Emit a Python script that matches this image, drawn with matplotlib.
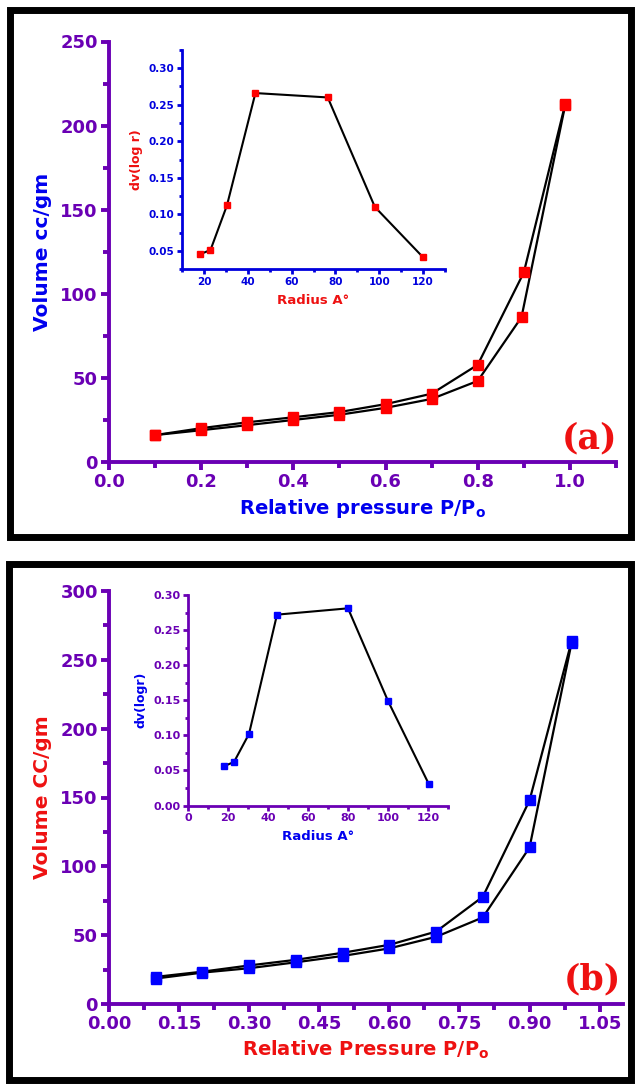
"""
Nitrogen adsorption-desorption isotherms with pore size distribution insets.
"""

import matplotlib
matplotlib.use("Agg")
import matplotlib.pyplot as plt
from matplotlib.patches import Rectangle
from matplotlib.ticker import MultipleLocator

# (a) isotherm: adsorption branch then desorption branch
p_ads_a = [0.10, 0.20, 0.30, 0.40, 0.50, 0.60, 0.70, 0.80, 0.895, 0.99]
v_ads_a = [16.0, 18.9, 21.9, 25.0, 28.1, 32.2, 37.5, 48.2, 86.1, 212.5]
p_des_a = [0.99, 0.90, 0.80, 0.70, 0.60, 0.50, 0.40, 0.30, 0.20, 0.10]
v_des_a = [213.0, 112.7, 57.8, 40.6, 34.4, 29.7, 26.6, 23.6, 20.1, 16.0]

# (a) pore size distribution
r_a = [18, 23, 30.5, 43.5, 76.5, 98, 120]
dv_a = [0.045, 0.051, 0.112, 0.266, 0.260, 0.110, 0.041]

# (b) isotherm
p_ads_b = [0.10, 0.20, 0.30, 0.40, 0.50, 0.60, 0.70, 0.80, 0.90, 0.99]
v_ads_b = [18.5, 22.8, 26.0, 30.3, 34.9, 40.4, 48.8, 62.9, 113.7, 262.5]
p_des_b = [0.99, 0.90, 0.80, 0.70, 0.60, 0.50, 0.40, 0.30, 0.20, 0.10]
v_des_b = [263.5, 147.9, 77.9, 52.6, 43.0, 37.2, 32.1, 28.0, 23.5, 19.7]

# (b) pore size distribution
r_b = [18, 23, 30.5, 44.5, 80, 100, 120.5]
dv_b = [0.056, 0.062, 0.102, 0.272, 0.281, 0.149, 0.030]

PURPLE = '#6a00b4'
BLUE = '#0000ee'
RED = '#ee1111'

W, H = 635, 1085


def px_rect(left, top, right, bottom):
    # pixel box (from top-left) -> figure fraction [l, b, w, h]
    return [left / W, 1 - bottom / H, (right - left) / W, (bottom - top) / H]


def style_axes(ax, color, lw, size, major_len, minor_len):
    for side in ['top', 'right']:
        ax.spines[side].set_visible(False)
    for side in ['left', 'bottom']:
        ax.spines[side].set_color(color)
        ax.spines[side].set_linewidth(lw)
    ax.tick_params(which='major', direction='out', length=major_len, width=lw,
                   color=color, labelcolor=color, labelsize=size, pad=2)
    ax.tick_params(which='minor', direction='out', length=minor_len, width=lw,
                   color=color)
    for lab in ax.get_xticklabels() + ax.get_yticklabels():
        lab.set_fontweight('bold')


def isotherm_panel(fig, rect, xa, ya, xd, yd, marker_color, xlim, ylim, xmaj, xmin,
                   ymaj, ymin, xfmt, xlabel, ylabel, label_color, tag, tag_xy):
    ax = fig.add_axes(rect)
    ax.plot(xa, ya, '-', color='black', lw=1.6, zorder=2)
    ax.plot(xd, yd, '-', color='black', lw=1.6, zorder=2)
    ax.plot(xa, ya, 's', color=marker_color, ms=7, mec=marker_color, zorder=3)
    ax.plot(xd, yd, 's', color=marker_color, ms=7, mec=marker_color, zorder=3)
    ax.xaxis.set_major_locator(MultipleLocator(xmaj))
    ax.xaxis.set_minor_locator(MultipleLocator(xmin))
    ax.yaxis.set_major_locator(MultipleLocator(ymaj))
    ax.yaxis.set_minor_locator(MultipleLocator(ymin))
    ax.xaxis.set_major_formatter(plt.FormatStrFormatter(xfmt))
    ax.set_xlim(*xlim)
    ax.set_ylim(*ylim)
    style_axes(ax, PURPLE, 2.8, 13, 6, 4)
    ax.set_xlabel(xlabel, fontsize=14, fontweight='bold', color=label_color, labelpad=4)
    ax.set_ylabel(ylabel, fontsize=14.5, fontweight='bold', color=label_color, labelpad=6)
    ax.text(tag_xy[0], tag_xy[1], tag, transform=ax.transAxes, ha='center', va='center',
            fontsize=25, fontweight='bold', family='DejaVu Serif', color=RED)
    ax.patch.set_alpha(0)
    return ax


def pore_inset(fig, rect, r, dv, marker_color, ms, axis_color, xlim, ylim, xticks,
               ylabel, label_color, size):
    ax = fig.add_axes(rect)
    ax.plot(r, dv, '-', color='black', lw=1.5, zorder=2)
    ax.plot(r, dv, 's', color=marker_color, ms=ms, mec=marker_color, zorder=3)
    ax.set_xticks(xticks)
    ax.xaxis.set_minor_locator(MultipleLocator(10))
    ax.yaxis.set_major_locator(MultipleLocator(0.05))
    ax.yaxis.set_minor_locator(MultipleLocator(0.025))
    ax.yaxis.set_major_formatter(plt.FormatStrFormatter('%.2f'))
    ax.set_xlim(*xlim)
    ax.set_ylim(*ylim)
    style_axes(ax, axis_color, 2.0, size, 3.5, 2)
    ax.set_xlabel('Radius A°', fontsize=9.5, fontweight='bold', color=label_color, labelpad=5)
    ax.set_ylabel(ylabel, fontsize=9, fontweight='bold', color=label_color, labelpad=4)
    ax.patch.set_alpha(0)
    return ax


fig = plt.figure(figsize=(W / 100, H / 100), dpi=100)

# panel (a)
ax_a = isotherm_panel(fig, px_rect(109, 41.5, 616, 462), p_ads_a, v_ads_a, p_des_a, v_des_a,
                      '#ff0000', (0, 1.1), (0, 250), 0.2, 0.1, 50, 25, '%.1f',
                      'Relative pressure P/P$_\\mathbf{o}$', 'Volume cc/gm', BLUE,
                      '(a)', (0.947, 0.056))
pore_inset(fig, px_rect(182, 50, 445, 269), r_a, dv_a, '#ff0000', 5, '#0000dd',
           (10, 130), (0.025, 0.325), [20, 40, 60, 80, 100, 120], 'dv(log r)', RED, 7.5)

# panel (b)
ax_b = isotherm_panel(fig, px_rect(109, 591, 623, 1004), p_ads_b, v_ads_b, p_des_b, v_des_b,
                      '#0000ff', (0, 1.10), (0, 300), 0.15, 0.075, 50, 25, '%.2f',
                      'Relative Pressure P/P$_\\mathbf{o}$', 'Volume CC/gm', RED,
                      '(b)', (0.94, 0.06))
pore_inset(fig, px_rect(188, 595, 448, 805.5), r_b, dv_b, '#0000ff', 3.8, PURPLE,
           (0, 130), (0, 0.30), [0, 20, 40, 60, 80, 100, 120], 'dv(logr)', BLUE, 8)

# black frames round each panel
for box in [(10, 10, 631, 537), (9, 564, 631, 1080)]:
    l, b, w, h = px_rect(*box)
    fig.add_artist(Rectangle((l, b), w, h, transform=fig.transFigure, fill=False,
                             lw=5, ec='black'))

fig.savefig('out.png', dpi=100)
